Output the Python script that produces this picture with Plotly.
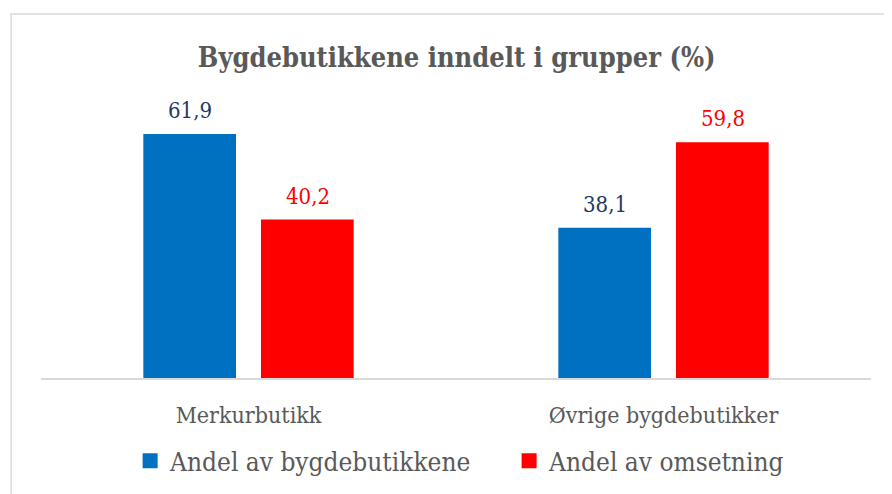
import plotly.graph_objects as go

categories = ["Merkurbutikk", "Øvrige bygdebutikker"]
andel_bygdebutikkene = [61.9, 38.1]
andel_omsetning = [40.2, 59.8]
series_names = ["Andel av bygdebutikkene", "Andel av omsetning"]
title_text = "Bygdebutikkene inndelt i grupper (%)"

BLUE = "#0070C0"
RED = "#FF0000"
NAVY = "#1F3864"
GRAY = "#595959"
FONT = "DejaVu Serif Condensed, Liberation Serif, serif"

fig = go.Figure()
for vals, name, color in [(andel_bygdebutikkene, series_names[0], BLUE),
                          (andel_omsetning, series_names[1], RED)]:
    fig.add_trace(go.Bar(x=categories, y=vals, name=name, showlegend=False, legendgroup=name,
                         marker=dict(color=color, line=dict(width=0))))
# legend entries with larger square swatches
for name, color in [(series_names[0], BLUE), (series_names[1], RED)]:
    fig.add_trace(go.Scatter(x=[None], y=[None], mode="markers", name=name, legendgroup=name,
                             marker=dict(symbol="square", size=15, color=color, line=dict(width=0))))

annotations = []
for vals, color, shift in [(andel_bygdebutikkene, NAVY, -59), (andel_omsetning, RED, 59)]:
    for c, v in zip(categories, vals):
        annotations.append(dict(x=c, y=v, xref="x", yref="y", xshift=shift, yshift=9,
                                yanchor="bottom", showarrow=False,
                                text=f"{v:.1f}".replace(".", ","),
                                font=dict(family=FONT, size=22, color=color)))

fig.update_layout(
    width=892, height=494,
    margin=dict(l=33, r=27, t=94, b=124),
    paper_bgcolor="white", plot_bgcolor="white",
    barmode="group", bargap=0.433, bargroupgap=0.212,
    title=dict(text=f"<b>{title_text}</b>", x=0.503, xanchor="center", y=0.9, yanchor="middle",
               font=dict(family=FONT, size=27, color=GRAY)),
    showlegend=True,
    legend=dict(orientation="h", x=0.564, xanchor="center", y=-0.30, yanchor="middle",
                entrywidth=334, entrywidthmode="pixels", itemwidth=30,
                font=dict(family=FONT, size=26, color=GRAY), traceorder="normal"),
    annotations=annotations,
    shapes=[dict(type="rect", xref="paper", yref="paper", x0=-0.036, x1=1.05, y0=-0.5, y1=1.319,
                 line=dict(color="#D9D9D9", width=1.5), fillcolor="rgba(0,0,0,0)", layer="below")],
)
fig.update_xaxes(showline=True, linecolor="#D9D9D9", linewidth=1.5, ticks="",
                 tickfont=dict(family=FONT, size=23, color=GRAY), ticklabelstandoff=16,
                 showgrid=False, zeroline=False)
fig.update_yaxes(range=[0, 70], visible=False, showgrid=False, zeroline=False)

fig.write_html("out.html")
